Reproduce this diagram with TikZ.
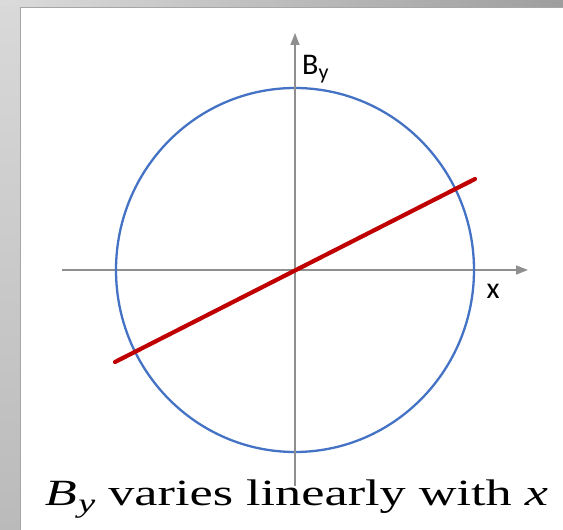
\documentclass[tikz,border=0pt]{standalone}
\usepackage{fontspec}
\newfontfamily\calibri{Carlito}
\newfontfamily\capserif{Liberation Serif}
\usetikzlibrary{arrows.meta}
\definecolor{axisgray}{HTML}{8F8F8F}
\definecolor{circblue}{HTML}{4472C4}
\definecolor{linered}{HTML}{C00000}
\begin{document}
\begin{tikzpicture}[x=1pt,y=1pt,
  axisline/.style={draw=axisgray, line width=1.6pt, -{Triangle[length=12pt,width=9pt]}},
  sanslabel/.style={font=\calibri\fontsize{30}{30}\selectfont, inner sep=0pt}]
\useasboundingbox (0,0) rectangle (563,530);
% frame
\shade[left color=black!14, right color=black!38] (0,523) rectangle (563,530);
\shade[top color=black!15, bottom color=black!27] (0,0) rectangle (20,523);
\fill[white] (20,0) rectangle (563,523);
\draw[black!35, line width=0.8pt] (20.4,0) -- (20.4,522.6) -- (563,522.6);
% caption
\node[anchor=base, inner sep=0pt] (caption) at (296.5,24)
  {\resizebox{503pt}{\height}{\capserif\fontsize{37}{40}\selectfont
   \itshape B\kern1pt\raisebox{-7pt}{\fontsize{27}{27}\selectfont y}\upshape\ varies linearly with \itshape x}};
% coordinates
\coordinate (O) at (295,260);
\coordinate (xl) at (62,260);
\coordinate (xr) at (528,260);
\coordinate (yb) at (295,44);
\coordinate (yt) at (295,497);
\coordinate (rl) at (115,168);
\coordinate (rr) at (475,351);
% x axis
\draw[axisline] (xl) -- (xr);
% circle
\draw[circblue, line width=2.3pt] (O) ellipse [x radius=179, y radius=182];
% y axis
\draw[axisline] (yb) -- (yt);
% red line
\draw[linered, line width=4.2pt, line cap=round] (rl) -- (rr);
% labels
\node[sanslabel, anchor=base west] (By) at (302,455)
  {B\raisebox{-5pt}{\fontsize{22}{22}\selectfont y}};
\node[sanslabel] (xlab) at (493,239) {x};
\end{tikzpicture}
\end{document}
